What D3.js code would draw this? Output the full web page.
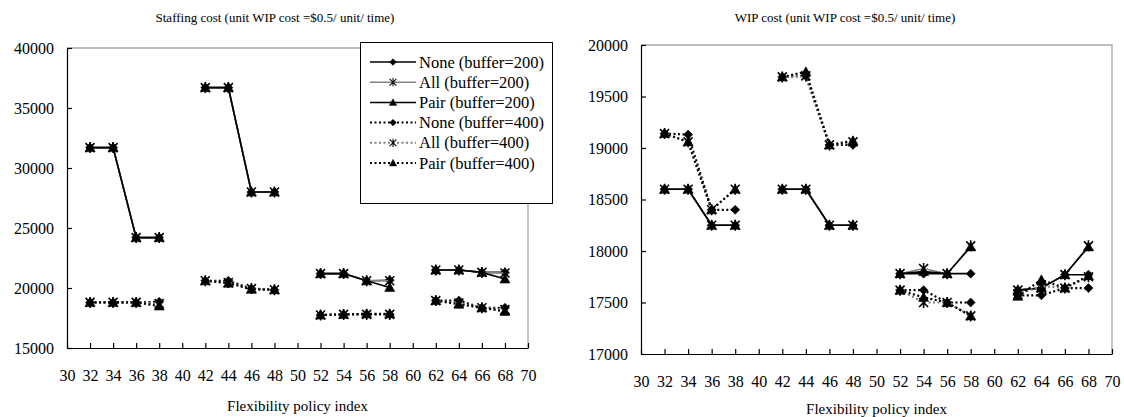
<!DOCTYPE html>
<html>
<head>
<meta charset="utf-8">
<script src="https://cdn.jsdelivr.net/npm/d3@7"></script>
<style>
  body { margin: 0; background: #fff; }
  svg { display: block; }
</style>
</head>
<body>
<svg id="chart" width="1124" height="417"></svg>
<script>
// flexibility policy index (blank at 40, 50, 60 splits the groups)
const policyIndex = [32, 34, 36, 38, 40, 42, 44, 46, 48, 50, 52, 54, 56, 58, 60, 62, 64, 66, 68];
const xTicks = d3.range(30, 71, 2);

const seriesNames = ["None (buffer=200)", "All (buffer=200)", "Pair (buffer=200)",
  "None (buffer=400)", "All (buffer=400)", "Pair (buffer=400)"];

// staffing cost
const staffNone200 = [31700, 31700, 24200, 24200, null, 36700, 36700, 28000, 28000, null, 21200, 21200, 20600, 20650, null, 21500, 21500, 21300, 21300];
const staffAll200  = [31700, 31700, 24200, 24200, null, 36700, 36700, 28000, 28000, null, 21200, 21200, 20600, 20600, null, 21500, 21500, 21300, 21250];
const staffPair200 = [31700, 31700, 24200, 24200, null, 36700, 36700, 28000, 28000, null, 21200, 21200, 20600, 20050, null, 21500, 21500, 21300, 20750];
const staffNone400 = [18800, 18800, 18800, 18850, null, 20600, 20600, 19950, 19850, null, 17750, 17800, 17800, 17800, null, 18950, 18950, 18350, 18350];
const staffAll400  = [18800, 18800, 18800, 18700, null, 20600, 20450, 19950, 19850, null, 17750, 17800, 17800, 17800, null, 18950, 18750, 18350, 18200];
const staffPair400 = [18800, 18800, 18800, 18500, null, 20600, 20400, 19900, 19850, null, 17750, 17800, 17850, 17850, null, 18950, 18650, 18350, 18050];

// WIP cost
const wipNone200 = [18600, 18600, 18250, 18250, null, 18600, 18600, 18250, 18250, null, 17780, 17780, 17780, 17780, null, 17620, 17640, 17770, 17770];
const wipAll200  = [18600, 18600, 18250, 18250, null, 18600, 18600, 18250, 18250, null, 17780, 17830, 17780, 18050, null, 17620, 17640, 17770, 18050];
const wipPair200 = [18600, 18600, 18250, 18250, null, 18600, 18600, 18250, 18250, null, 17780, 17800, 17780, 18040, null, 17620, 17640, 17770, 18040];
const wipNone400 = [19140, 19130, 18400, 18400, null, 19690, 19700, 19030, 19030, null, 17620, 17620, 17500, 17500, null, 17570, 17570, 17640, 17640];
const wipAll400  = [19140, 19060, 18400, 18600, null, 19690, 19700, 19030, 19060, null, 17620, 17500, 17500, 17370, null, 17580, 17660, 17640, 17750];
const wipPair400 = [19140, 19060, 18400, 18600, null, 19690, 19740, 19030, 19070, null, 17620, 17550, 17500, 17370, null, 17560, 17720, 17640, 17760];

const styles = [
  { stroke: "#000", dash: null, marker: "diamond" },
  { stroke: "#808080", dash: null, marker: "asterisk" },
  { stroke: "#000", dash: null, marker: "triangle" },
  { stroke: "#000", dash: "2,2.5", marker: "diamond" },
  { stroke: "#808080", dash: "2,2.5", marker: "asterisk" },
  { stroke: "#000", dash: "2,2.5", marker: "triangle" }
];

const serifFont = "Liberation Serif";

function markerPath(type) {
  if (type == "diamond") return "M0,-4.5L4.5,0L0,4.5L-4.5,0Z";
  if (type == "triangle") return "M0,-5L5,4L-5,4Z";
  return "M-4.5,-4.5L4.5,4.5M-4.5,4.5L4.5,-4.5M0,-5.5L0,5.5";
}

function drawMarker(g, type, x, y) {
  const p = g.append("path")
    .attr("d", markerPath(type))
    .attr("transform", `translate(${x},${y})`);
  if (type == "asterisk") {
    p.attr("fill", "none").attr("stroke", "#000").attr("stroke-width", 1.6);
  } else {
    p.attr("fill", "#000").attr("stroke", "#000").attr("stroke-width", 0.6);
  }
}

const svg = d3.select("#chart");

function drawPanel(cfg) {
  const g = svg.append("g");
  const x = d3.scaleLinear().domain([30, 70]).range([cfg.left, cfg.right]);
  const y = d3.scaleLinear().domain(cfg.domain).range([cfg.bottom, cfg.top]);

  // light frame on top and right
  g.append("path")
    .attr("d", `M${cfg.left},${cfg.top}H${cfg.right}V${cfg.bottom}`)
    .attr("fill", "none")
    .attr("stroke", "#a6a6a6")
    .attr("stroke-width", 1.3);

  g.append("g")
    .attr("transform", `translate(${cfg.left},0)`)
    .call(d3.axisLeft(y).tickValues(cfg.yTicks).tickSizeInner(-5).tickSizeOuter(0).tickPadding(13).tickFormat(d3.format("d")));

  g.append("g")
    .attr("transform", `translate(0,${cfg.bottom})`)
    .call(d3.axisBottom(x).tickValues(xTicks).tickSizeInner(-5).tickSizeOuter(0).tickPadding(22));

  g.selectAll(".tick text")
    .attr("font-size", 16)
    .style("font-family", serifFont)
    .attr("fill", "#000");
  g.selectAll(".domain, .tick line").attr("stroke", "#000").attr("stroke-width", 1.2);

  g.append("text")
    .attr("x", cfg.titleX).attr("y", 22)
    .attr("text-anchor", "middle")
    .attr("font-size", 13)
    .style("font-family", serifFont)
    .text(cfg.title);

  g.append("text")
    .attr("x", (cfg.left + cfg.right) / 2).attr("y", cfg.xTitleY)
    .attr("text-anchor", "middle")
    .attr("font-size", 15)
    .style("font-family", serifFont)
    .text("Flexibility policy index");

  const line = d3.line()
    .defined((d) => d.v != null)
    .x((d) => x(d.x))
    .y((d) => y(d.v));

  cfg.series.forEach((vals, i) => {
    const pts = policyIndex.map((px, j) => ({ x: px, v: vals[j] }));
    g.append("path")
      .datum(pts)
      .attr("d", line)
      .attr("fill", "none")
      .attr("stroke", styles[i].stroke)
      .attr("stroke-width", styles[i].dash ? 2.2 : 1.6)
      .attr("stroke-dasharray", styles[i].dash);
    const mg = g.append("g");
    pts.filter((d) => d.v != null).forEach((d) => drawMarker(mg, styles[i].marker, x(d.x), y(d.v)));
  });
  return g;
}

drawPanel({
  left: 67, right: 528, top: 48, bottom: 348,
  domain: [15000, 40000], yTicks: d3.range(15000, 40001, 5000),
  title: "Staffing cost (unit WIP cost =$0.5/ unit/ time)", titleX: 275, xTitleY: 411,
  series: [staffNone200, staffAll200, staffPair200, staffNone400, staffAll400, staffPair400]
});

drawPanel({
  left: 641, right: 1112, top: 45, bottom: 354,
  domain: [17000, 20000], yTicks: d3.range(17000, 20001, 500),
  title: "WIP cost (unit WIP cost =$0.5/ unit/ time)", titleX: 845, xTitleY: 414,
  series: [wipNone200, wipAll200, wipPair200, wipNone400, wipAll400, wipPair400]
});

// legend (left panel only)
const legend = svg.append("g");
legend.append("rect")
  .attr("x", 360.5).attr("y", 42.5).attr("width", 192).attr("height", 161)
  .attr("fill", "#fff").attr("stroke", "#000").attr("stroke-width", 1);

seriesNames.forEach((name, i) => {
  const ly = 62 + i * 20.2;
  legend.append("line")
    .attr("x1", 370).attr("x2", 416).attr("y1", ly).attr("y2", ly)
    .attr("stroke", styles[i].stroke)
    .attr("stroke-width", styles[i].dash ? 2 : 1.5)
    .attr("stroke-dasharray", styles[i].dash);
  legend.append("path")
    .attr("d", markerPath(styles[i].marker))
    .attr("transform", `translate(393,${ly}) scale(0.75)`)
    .attr("fill", styles[i].marker == "asterisk" ? "none" : "#000")
    .attr("stroke", "#000")
    .attr("stroke-width", styles[i].marker == "asterisk" ? 1.4 : 0.5);
  legend.append("text")
    .attr("x", 419).attr("y", ly + 5.5)
    .attr("font-size", 16.5)
    .style("font-family", serifFont)
    .text(name);
});
</script>
</body>
</html>
